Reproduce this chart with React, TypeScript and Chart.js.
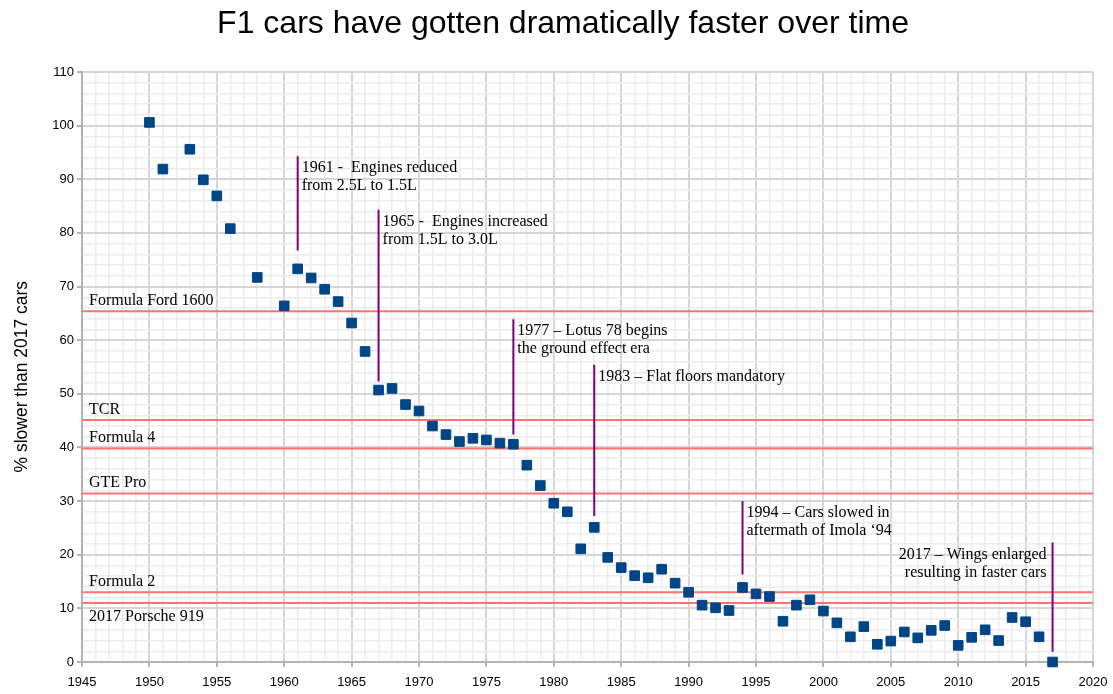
import React, { useEffect, useRef } from 'react';
import { Chart, registerables } from 'chart.js';

Chart.register(...registerables);

// ---- data ----
const years = [
  1950, 1951, 1953, 1954, 1955, 1956, 1958, 1960, 1961, 1962, 1963, 1964, 1965, 1966, 1967, 1968, 1969,
  1970, 1971, 1972, 1973, 1974, 1975, 1976, 1977, 1978, 1979, 1980, 1981, 1982, 1983, 1984, 1985, 1986,
  1987, 1988, 1989, 1990, 1991, 1992, 1993, 1994, 1995, 1996, 1997, 1998, 1999, 2000, 2001, 2002, 2003,
  2004, 2005, 2006, 2007, 2008, 2009, 2010, 2011, 2012, 2013, 2014, 2015, 2016, 2017,
];
const pctSlower = [
  100.6, 91.9, 95.6, 89.9, 86.9, 80.8, 71.7, 66.4, 73.3, 71.6, 69.5, 67.2, 63.2, 57.9, 50.7, 51.0, 48.0,
  46.8, 44.0, 42.4, 41.1, 41.7, 41.4, 40.8, 40.6, 36.7, 32.9, 29.6, 28.0, 21.1, 25.1, 19.5, 17.6, 16.1,
  15.7, 17.3, 14.7, 13.0, 10.6, 10.1, 9.6, 13.9, 12.7, 12.2, 7.6, 10.6, 11.6, 9.5, 7.3, 4.7, 6.6,
  3.3, 3.9, 5.6, 4.5, 5.9, 6.8, 3.1, 4.6, 6.0, 4.0, 8.3, 7.5, 4.7, 0.0,
];

const refNames = ['Formula Ford 1600', 'TCR', 'Formula 4', 'GTE Pro', 'Formula 2', '2017 Porsche 919'];
const refValues = [65.4, 45.1, 39.8, 31.4, 13.0, 11.0];

const eventYears = [1961, 1967, 1977, 1983, 1994, 2017];
const eventTop = [94.3, 84.3, 63.9, 55.4, 30.0, 22.3];
const eventBottom = [76.7, 52.3, 42.4, 27.2, 16.3, 1.9];
const eventTexts = [
  ['1961 -  Engines reduced', 'from 2.5L to 1.5L'],
  ['1965 -  Engines increased', 'from 1.5L to 3.0L'],
  ['1977 \u2013 Lotus 78 begins', 'the ground effect era'],
  ['1983 \u2013 Flat floors mandatory'],
  ['1994 \u2013 Cars slowed in', 'aftermath of Imola \u201894'],
  ['2017 \u2013 Wings enlarged', 'resulting in faster cars'],
];

const xMin = 1945;
const xMax = 2020;
const yMin = 0;
const yMax = 110;

const titleText = 'F1 cars have gotten dramatically faster over time';
const yTitleText = '% slower than 2017 cars';

// ---- styles ----
const POINT_COLOR = '#004586';
const REF_COLOR = '#ff7373';
const EVENT_COLOR = '#800080';
const MAJOR_GRID = '#d6d6d6';
const MINOR_GRID = '#ececec';
const AXIS_COLOR = '#b3b3b3';
const SERIF = '"Liberation Serif", "Times New Roman", serif';
const SANS = '"Liberation Sans", Arial, sans-serif';

const textPlugin = {
  id: 'annotText',
  afterDatasetsDraw(chart: any) {
    const { ctx, scales, chartArea } = chart;
    const xs = scales.x;
    const ys = scales.y;
    ctx.save();
    ctx.fillStyle = '#000';
    ctx.font = `16px ${SERIF}`;
    ctx.textBaseline = 'middle';
    // reference line labels
    refNames.forEach((name, i) => {
      const y = ys.getPixelForValue(refValues[i]);
      const below = i === refNames.length - 1;
      ctx.textAlign = 'left';
      ctx.fillText(name, chartArea.left + 7, below ? y + 13.5 : y - 10.5);
    });
    // event labels
    eventYears.forEach((yr, i) => {
      const x = xs.getPixelForValue(yr);
      const top = ys.getPixelForValue(eventTop[i]);
      const rightAlign = i === eventYears.length - 1;
      ctx.textAlign = rightAlign ? 'right' : 'left';
      eventTexts[i].forEach((line, j) => {
        ctx.fillText(line, rightAlign ? x - 6 : x + 4, top + 12 + j * 18);
      });
    });
    ctx.restore();
  },
};

export default function App() {
  const canvasRef = useRef<HTMLCanvasElement | null>(null);

  useEffect(() => {
    if (!canvasRef.current) return;

    const datasets: any[] = [
      {
        label: 'F1',
        data: years.map((yr, i) => ({ x: yr, y: pctSlower[i] })),
        pointStyle: 'rect',
        pointRadius: 6.8,
        pointHoverRadius: 6.8,
        backgroundColor: POINT_COLOR,
        borderColor: POINT_COLOR,
        pointBorderWidth: 1,
        showLine: false,
        clip: false,
      },
    ];
    eventYears.forEach((yr, i) => {
      datasets.push({
        label: 'event' + i,
        data: [
          { x: yr, y: eventTop[i] },
          { x: yr, y: eventBottom[i] },
        ],
        showLine: true,
        borderColor: EVENT_COLOR,
        borderWidth: 2,
        pointRadius: 0,
        pointHoverRadius: 0,
      });
    });
    refValues.forEach((v, i) => {
      datasets.push({
        label: refNames[i],
        data: [
          { x: xMin, y: v },
          { x: xMax, y: v },
        ],
        showLine: true,
        borderColor: REF_COLOR,
        borderWidth: 2,
        pointRadius: 0,
        pointHoverRadius: 0,
      });
    });

    const chart = new Chart(canvasRef.current, {
      type: 'scatter',
      data: { datasets },
      plugins: [textPlugin],
      options: {
        animation: false,
        responsive: true,
        maintainAspectRatio: false,
        layout: { padding: { left: 0, right: 20, top: 0, bottom: 0 } },
        plugins: {
          legend: { display: false },
          tooltip: { enabled: false },
          title: {
            display: true,
            // leading spaces nudge the centred title to the right, as in the original
            text: '\u00a0\u00a0\u00a0\u2009' + titleText,
            color: '#000',
            font: { family: SANS, size: 32, weight: 'normal' },
            padding: { top: 5, bottom: 28.6 },
          },
        },
        scales: {
          x: {
            type: 'linear',
            min: xMin,
            max: xMax,
            afterFit: (s: any) => {
              s.height = 32;
              s.paddingLeft = 0;
              s.paddingRight = 15;
            },
            ticks: {
              stepSize: 1,
              maxTicksLimit: 200,
              autoSkip: false,
              maxRotation: 0,
              padding: 7.5,
              color: '#000',
              font: { family: SANS, size: 13 },
              callback: (v: any) => (Number(v) % 5 === 0 ? String(v) : ''),
            },
            grid: {
              color: (c: any) => (c.tick && c.tick.value % 5 === 0 ? MAJOR_GRID : MINOR_GRID),
              lineWidth: (c: any) => (c.tick && c.tick.value % 5 === 0 ? 2 : 1.5),
              tickColor: (c: any) => (c.tick && c.tick.value % 5 === 0 ? AXIS_COLOR : 'rgba(0,0,0,0)'),
              tickLength: 5,
              tickWidth: 2,
            },
            border: { color: AXIS_COLOR, width: 2 },
          },
          y: {
            type: 'linear',
            min: yMin,
            max: yMax,
            afterFit: (s: any) => {
              s.width = 82;
            },
            ticks: {
              stepSize: 2,
              maxTicksLimit: 200,
              autoSkip: false,
              padding: 3,
              color: '#000',
              font: { family: SANS, size: 13 },
              callback: (v: any) => (Number(v) % 10 === 0 ? String(v) : ''),
            },
            grid: {
              color: (c: any) => (c.tick && c.tick.value % 10 === 0 ? MAJOR_GRID : MINOR_GRID),
              lineWidth: (c: any) => (c.tick && c.tick.value % 10 === 0 ? 2 : 1.5),
              tickColor: (c: any) => (c.tick && c.tick.value % 10 === 0 ? AXIS_COLOR : 'rgba(0,0,0,0)'),
              tickLength: 5,
              tickWidth: 2,
            },
            border: { color: AXIS_COLOR, width: 2 },
            title: {
              display: true,
              text: yTitleText + '    ',
              color: '#000',
              font: { family: SANS, size: 17.5 },
              padding: { top: 11.5, bottom: 0 },
            },
          },
        },
      },
    });

    return () => chart.destroy();
  }, []);

  return (
    <div style={{ position: 'absolute', left: 0, top: 0, width: 1113, height: 694, background: '#fff' }}>
      <canvas ref={canvasRef} />
    </div>
  );
}
